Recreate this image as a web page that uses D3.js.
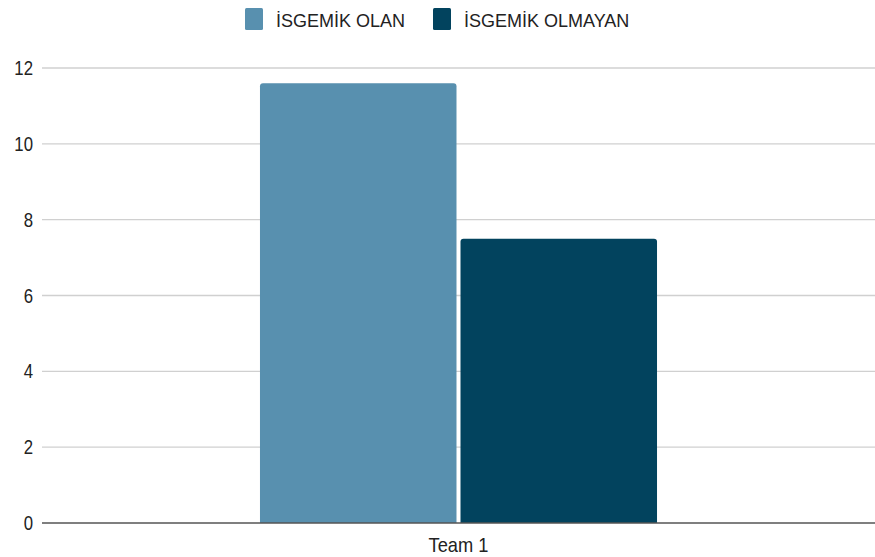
<!DOCTYPE html>
<html lang="tr">
<head>
<meta charset="UTF-8">
<title>İSGEMİK</title>
<style>
  body { margin: 0; background: #ffffff; font-family: 'Liberation Sans', Arial, sans-serif; }
  svg { display: block; }
  .grid line { stroke: #d0d0d0; stroke-width: 1.3px; }
  .tick-label { fill: #222; font-size: 20px; }
  .cat-label { fill: #222; font-size: 21px; }
  .legend-label { fill: #222; font-size: 18px; }
</style>
</head>
<body>
<script src="https://d3js.org/d3.v7.min.js"></script>
<script>
// chart data
const categories = ["Team 1"];
const seriesNames = ["İSGEMİK OLAN", "İSGEMİK OLMAYAN"];
const seriesValues = [[11.6], [7.5]];
const yTicks = [0, 2, 4, 6, 8, 10, 12];
const colors = ["#5890af", "#02435e"];

const width = 875, height = 557;
const margin = { top: 68, right: 0, bottom: 34, left: 42 };

const svg = d3.select("body").append("svg")
  .attr("width", width)
  .attr("height", height);

const y = d3.scaleLinear()
  .domain([0, 12])
  .range([height - margin.bottom, margin.top]);

const x0 = d3.scaleBand()
  .domain(categories)
  .range([margin.left, width - margin.right])
  .paddingInner(0)
  .paddingOuter(0.549);

const x1 = d3.scaleBand()
  .domain(seriesNames)
  .range([0, x0.bandwidth()])
  .paddingInner(0.02);

// gridlines
const grid = svg.append("g").attr("class", "grid");
grid.selectAll("line")
  .data(yTicks.filter(d => d !== 0))
  .enter().append("line")
  .attr("x1", margin.left)
  .attr("x2", width - margin.right)
  .attr("y1", d => y(d))
  .attr("y2", d => y(d));

// y tick labels (condensed look)
svg.selectAll(".tick-label")
  .data(yTicks)
  .enter().append("text")
  .attr("class", "tick-label")
  .attr("text-anchor", "end")
  .attr("transform", d => `translate(33,${y(d) + 7}) scale(0.84,1)`)
  .text(d => d);

// bars with rounded tops
function topRounded(x, yTop, w, h, r) {
  return `M${x},${yTop + h}V${yTop + r}Q${x},${yTop} ${x + r},${yTop}` +
         `H${x + w - r}Q${x + w},${yTop} ${x + w},${yTop + r}V${yTop + h}Z`;
}

const groups = svg.selectAll(".group")
  .data(categories)
  .enter().append("g")
  .attr("class", "group")
  .attr("transform", d => `translate(${x0(d)},0)`);

groups.selectAll("path")
  .data((d, ci) => seriesNames.map((s, si) => ({ s, si, v: seriesValues[si][ci] })))
  .enter().append("path")
  .attr("fill", d => colors[d.si])
  .attr("d", d => topRounded(x1(d.s), y(d.v), x1.bandwidth(), y(0) - y(d.v), 3));

// zero baseline
svg.append("line")
  .attr("x1", margin.left)
  .attr("x2", width - margin.right)
  .attr("y1", y(0))
  .attr("y2", y(0))
  .attr("stroke", "#555")
  .attr("stroke-width", 1.6);

// category label
svg.selectAll(".cat-label")
  .data(categories)
  .enter().append("text")
  .attr("class", "cat-label")
  .attr("text-anchor", "middle")
  .attr("transform", d => `translate(${x0(d) + x0.bandwidth() / 2},552) scale(0.87,1)`)
  .text(d => d);

// legend
const legendX = [245, 433];
const legend = svg.selectAll(".legend")
  .data(seriesNames)
  .enter().append("g")
  .attr("class", "legend")
  .attr("transform", (d, i) => `translate(${legendX[i]},8)`);

legend.append("rect")
  .attr("width", 18)
  .attr("height", 22)
  .attr("rx", 1.5)
  .attr("fill", (d, i) => colors[i]);

legend.append("text")
  .attr("class", "legend-label")
  .attr("x", 31)
  .attr("y", 19)
  .text(d => d);
</script>
</body>
</html>
